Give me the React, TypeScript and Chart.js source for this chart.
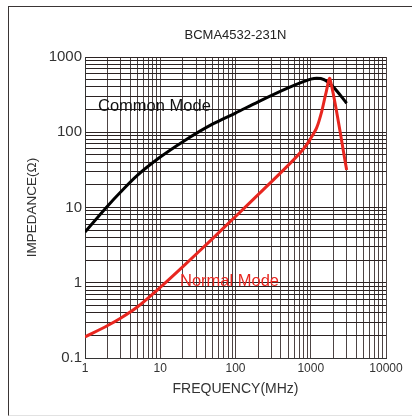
import React, { useEffect, useRef } from "react";
import { Chart, registerables } from "chart.js";

Chart.register(...registerables);

const TITLE = "BCMA4532-231N";
const X_TITLE = "FREQUENCY(MHz)";
const Y_TITLE = "IMPEDANCE(Ω)";

// Frequency (MHz) and impedance (Ω)
const COMMON_FREQ = [1, 2, 3, 5, 10, 20, 50, 100, 200, 500, 800, 1000, 1200, 1500, 2000, 3000];
const COMMON_Z = [4.72, 10.5, 16.2, 26.9, 46.8, 75, 129, 180, 254, 389, 470, 508, 522, 501, 398, 243];

const NORMAL_FREQ = [1, 2, 3, 5, 10, 20, 50, 100, 200, 500, 800, 1000, 1200, 1400, 1600, 1800, 3000];
const NORMAL_Z = [0.19, 0.27, 0.34, 0.48, 0.87, 1.64, 3.89, 7.6, 14.8, 36.3, 60, 83, 115, 190, 339, 513, 31.6];

const X_DECADES = [1, 10, 100, 1000, 10000];
const X_TICK_LABELS = ["1", "10", "100", "1000", "10000"];
const Y_DECADES = [0.1, 1, 10, 100, 1000];
const Y_TICK_LABELS = ["0.1", "1", "10", "100", "1000"];

const SERIES_LABELS = [
  { text: "Common Mode", x: 1.49, y: 223, color: "#111111" },
  { text: "Normal Mode", x: 18.3, y: 1.05, color: "#e8261f" },
];

const FONT = "'Liberation Sans', Arial, Helvetica, sans-serif";

function logGrid(decades: number[]) {
  const out: number[] = [];
  for (let i = 0; i < decades.length - 1; i++) {
    for (let m = 1; m < 10; m++) out.push(m * decades[i]);
  }
  out.push(decades[decades.length - 1]);
  return out;
}

function labelFor(v: number, decades: number[], labels: string[]) {
  for (let i = 0; i < decades.length; i++) {
    if (Math.abs(Math.log10(v) - Math.log10(decades[i])) < 1e-6) return labels[i];
  }
  return "";
}

const seriesLabelPlugin = {
  id: "seriesLabels",
  afterDatasetsDraw(chart: any) {
    const { ctx, scales } = chart;
    ctx.save();
    ctx.font = `16.5px ${FONT}`;
    ctx.textAlign = "left";
    ctx.textBaseline = "middle";
    for (const l of SERIES_LABELS) {
      ctx.fillStyle = l.color;
      ctx.fillText(l.text, scales.x.getPixelForValue(l.x), scales.y.getPixelForValue(l.y));
    }
    ctx.restore();
  },
};

export default function App() {
  const ref = useRef<HTMLCanvasElement | null>(null);

  useEffect(() => {
    if (!ref.current) return;
    const xGrid = logGrid(X_DECADES);
    const yGrid = logGrid(Y_DECADES);
    const chart = new Chart(ref.current, {
      type: "line",
      data: {
        datasets: [
          {
            label: "Normal Mode",
            data: NORMAL_FREQ.map((f, i) => ({ x: f, y: NORMAL_Z[i] })),
            borderColor: "#e8261f",
            borderWidth: 3,
            pointRadius: 0,
            tension: 0.3,
            order: 0,
          },
          {
            label: "Common Mode",
            data: COMMON_FREQ.map((f, i) => ({ x: f, y: COMMON_Z[i] })),
            borderColor: "#000000",
            borderWidth: 3,
            pointRadius: 0,
            cubicInterpolationMode: "monotone",
            order: 1,
          },
        ],
      },
      options: {
        animation: false,
        responsive: false,
        maintainAspectRatio: false,
        layout: { padding: { left: 0, right: 26, top: 0, bottom: 0 } },
        plugins: {
          legend: { display: false },
          tooltip: { enabled: false },
          title: {
            display: true,
            text: TITLE,
            fullSize: false,
            color: "#222",
            font: { family: FONT, size: 13, weight: "normal" },
            padding: { top: 28, bottom: 13.4 },
          },
        },
        scales: {
          x: {
            type: "logarithmic",
            min: 1,
            max: 10000,
            afterBuildTicks: (s: any) => {
              s.ticks = xGrid.map((v) => ({ value: v }));
            },
            afterFit: (s: any) => {
              s.height = 58;
            },
            ticks: {
              autoSkip: false,
              maxRotation: 0,
              padding: 3,
              color: "#333",
              font: { family: FONT, size: 12 },
              callback: (v: any) => labelFor(Number(v), X_DECADES, X_TICK_LABELS),
            },
            grid: { color: "#4d4444", lineWidth: 1, drawTicks: false },
            border: { display: true, color: "#333" },
            title: {
              display: true,
              text: X_TITLE,
              color: "#333",
              font: { family: FONT, size: 14 },
              padding: { top: 0, bottom: 18.6 },
            },
          },
          y: {
            type: "logarithmic",
            min: 0.1,
            max: 1000,
            afterBuildTicks: (s: any) => {
              s.ticks = yGrid.map((v) => ({ value: v }));
            },
            afterFit: (s: any) => {
              s.width = 85;
            },
            ticks: {
              autoSkip: false,
              padding: 3,
              color: "#333",
              font: { family: FONT, size: 15 },
              callback: (v: any) => labelFor(Number(v), Y_DECADES, Y_TICK_LABELS),
            },
            grid: { color: "#2b2222", lineWidth: 1, drawTicks: false },
            border: { display: true, color: "#333" },
            title: {
              display: true,
              text: Y_TITLE,
              color: "#333",
              font: { family: FONT, size: 13.5 },
              padding: { top: 23.9, bottom: 0 },
            },
          },
        },
      },
      plugins: [seriesLabelPlugin],
    } as any);
    return () => chart.destroy();
  }, []);

  return (
    <div style={{ position: "fixed", left: 0, top: 0, width: 412, height: 416, background: "#fff" }}>
      <div
        style={{
          position: "absolute",
          left: 8,
          top: 6,
          width: 420,
          height: 408,
          borderLeft: "1px solid #3a3535",
          borderTop: "1px solid #3a3535",
          borderBottom: "1px solid #e2e2e2",
        }}
      />
      <canvas ref={ref} width={412} height={416} style={{ position: "absolute", left: 0, top: 0 }} />
    </div>
  );
}
